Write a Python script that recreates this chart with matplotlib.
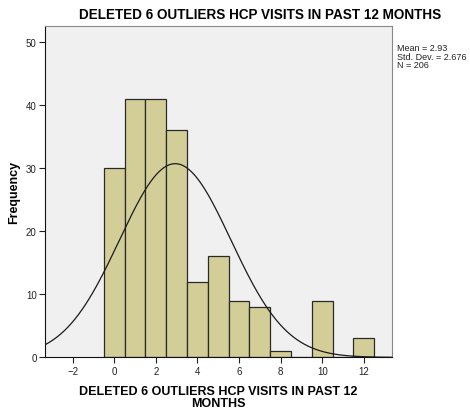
import numpy as np
import matplotlib
matplotlib.use("Agg")
import matplotlib.pyplot as plt

values = [0, 1, 2, 3, 4, 5, 6, 7, 8, 9, 10, 11, 12]
counts = [30, 41, 41, 36, 12, 16, 9, 8, 1, 0, 9, 0, 3]
mean = 2.93
sd = 2.676
n = 206
xticks = [-2, 0, 2, 4, 6, 8, 10, 12]
yticks = [0, 10, 20, 30, 40, 50]

plt.rcParams['font.family'] = ['Liberation Sans', 'DejaVu Sans']

fig = plt.figure(figsize=(4.7, 4.1), dpi=100)
ax = fig.add_axes([0.0957, 0.126, 0.7383, 0.809])
ax.set_facecolor('#F0F0F0')

ax.bar(values, counts, width=1.0, color='#D3CE97', edgecolor='#2a2a2a', linewidth=0.9, zorder=2)

xs = np.linspace(-3.4, 13.4, 400)
pdf = n * 1.0 / (sd * np.sqrt(2 * np.pi)) * np.exp(-0.5 * ((xs - mean) / sd) ** 2)
ax.plot(xs, pdf, color='#1a1a1a', linewidth=0.9, zorder=3)

ax.set_xlim(-3.33, 13.35)
ax.set_ylim(0, 52.6)
ax.set_xticks(xticks)
ax.set_yticks(yticks)
ax.tick_params(axis='both', direction='out', length=4, width=0.8, labelsize=7, colors='#222222', pad=2)
for s in ['left', 'bottom']:
    ax.spines[s].set_color('#111111')
for s in ['top', 'right']:
    ax.spines[s].set_color('#888888')

fig.text(260 / 470, 1 - 15 / 410, 'DELETED 6 OUTLIERS HCP VISITS IN PAST 12 MONTHS',
         fontsize=9.75, fontweight='bold', ha='center', va='center')
ax.set_xlabel('DELETED 6 OUTLIERS HCP VISITS IN PAST 12\nMONTHS', fontsize=9, fontweight='bold', labelpad=7, linespacing=0.95)
ax.set_ylabel('Frequency', fontsize=9, fontweight='bold', labelpad=4)

fig.text(397 / 470, 1 - 44 / 410, f'Mean = {mean}\nStd. Dev. = {sd}\nN = {n}', fontsize=6.5, va='top', ha='left', linespacing=0.95, color='#222222')

fig.savefig('out.png', dpi=100, facecolor='white')
